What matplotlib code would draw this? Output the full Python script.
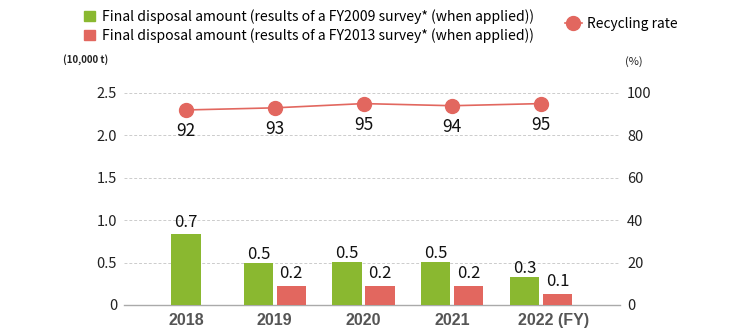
import matplotlib.pyplot as plt
import matplotlib.transforms as mtransforms
from matplotlib.lines import Line2D
from matplotlib.patches import Patch
import numpy as np

plt.rcParams['font.family'] = ['Noto Sans CJK JP', 'DejaVu Sans']

# data
years = ['2018', '2019', '2020', '2021', '2022']
fy2009 = [0.84, 0.50, 0.51, 0.51, 0.33]
fy2013 = [None, 0.22, 0.22, 0.22, 0.13]
fy2009_lbl = ['0.7', '0.5', '0.5', '0.5', '0.3']
fy2013_lbl = ['', '0.2', '0.2', '0.2', '0.1']
rate = [92, 93, 95, 94, 95]

green = '#8ab830'
red = '#e2675f'

fig = plt.figure(figsize=(7.3, 3.35), dpi=100)
ax = fig.add_axes([124/730, 30/335, 496/730, 212/335])
ax2 = ax.twinx()

x = np.arange(len(years))
w = 0.33
off = 0.185
for i in x:
    if fy2013[i] is None:
        ax.bar(i, fy2009[i], w, color=green, zorder=3)
        ax.annotate(fy2009_lbl[i], (i, fy2009[i]), xytext=(0, 2), textcoords='offset points',
                    ha='center', va='bottom', fontsize=12, color='#111')
    else:
        ax.bar(i - off, fy2009[i], w, color=green, zorder=3)
        ax.bar(i + off, fy2013[i], w, color=red, zorder=3)
        ax.annotate(fy2009_lbl[i], (i - off, fy2009[i]), xytext=(0, 0), textcoords='offset points',
                    ha='center', va='bottom', fontsize=12, color='#111')
        ax.annotate(fy2013_lbl[i], (i + off, fy2013[i]), xytext=(0, 3), textcoords='offset points',
                    ha='center', va='bottom', fontsize=12, color='#111')

ax.set_xlim(-0.699, 4.89)
ax.set_ylim(0, 2.5)
ax.set_yticks([0, 0.5, 1.0, 1.5, 2.0, 2.5])
ax.set_yticklabels(['0', '0.5', '1.0', '1.5', '2.0', '2.5'])
ax.yaxis.grid(True, color='#cccccc', linestyle=(0, (3, 2)), linewidth=0.7, zorder=0)
ax.set_axisbelow(True)

ax2.plot(x, rate, color=red, lw=1.2, marker='o', markersize=10, zorder=4, clip_on=False)
for i, r in enumerate(rate):
    ax2.annotate(str(r), (i, r), xytext=(0, -9), textcoords='offset points',
                 ha='center', va='top', fontsize=12.5, color='#111')
ax2.set_ylim(0, 100)
ax2.set_yticks([0, 20, 40, 60, 80, 100])

for a in (ax, ax2):
    for s in a.spines.values():
        s.set_visible(False)
ax.spines['bottom'].set_visible(True)
ax.spines['bottom'].set_color('#aaaaaa')
ax.spines['bottom'].set_linewidth(1)

ax.tick_params(axis='y', length=0, pad=5, labelsize=10.5, labelcolor='#222')
ax2.tick_params(axis='y', length=0, pad=5, labelsize=10.5, labelcolor='#222')
ax.set_xticks(x)
ax.set_xticklabels(years[:-1] + [years[-1] + ' (FY)'], family='Liberation Sans',
                   fontweight='bold', fontsize=11.5, color='#555555')
ax.tick_params(axis='x', length=0, pad=6)
# "(FY)" hangs to the right of the last year
last = ax.get_xticklabels()[-1]
last.set_transform(last.get_transform() + mtransforms.ScaledTranslation(13/100, 0, fig.dpi_scale_trans))

fig.text(86/730, 1 - 60/335, '(10,000 t)', ha='center', va='center', fontsize=7, fontweight='bold', color='#222')
fig.text(634/730, 1 - 62/335, '(%)', ha='center', va='center', fontsize=8, color='#222')

h1 = [Patch(color=green), Patch(color=red)]
l1 = ['Final disposal amount (results of a FY2009 survey* (when applied))',
      'Final disposal amount (results of a FY2013 survey* (when applied))']
leg1 = fig.legend(h1, l1, loc='upper left', bbox_to_anchor=(84/730, 1 - 9/335), frameon=False,
                  fontsize=10.1, handlelength=0.75, handleheight=0.75, handletextpad=0.55,
                  labelspacing=0.3, borderpad=0, borderaxespad=0)
h2 = [Line2D([], [], color=red, marker='o', markersize=10, lw=1.2)]
leg2 = fig.legend(h2, ['Recycling rate'], loc='upper left', bbox_to_anchor=(565/730, 1 - 17/335),
                  frameon=False, fontsize=9.9, handlelength=1.2, handletextpad=0.4,
                  borderpad=0, borderaxespad=0)

fig.savefig('out.png', dpi=100)
